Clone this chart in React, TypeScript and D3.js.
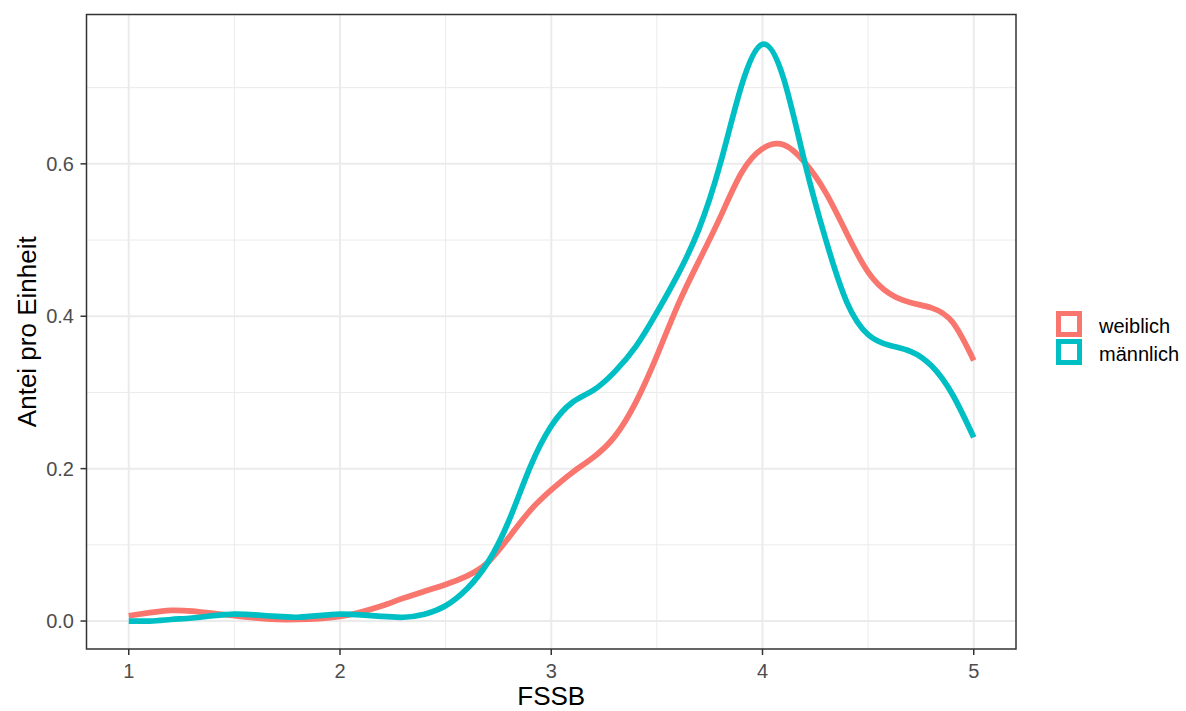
import React from "react";
import * as d3 from "d3";

const xGrid = [1.0,1.1,1.2,1.3,1.4,1.5,1.6,1.7,1.8,1.9,2.0,2.1,2.2,2.3,2.4,2.5,2.6,2.7,2.8,2.9,3.0,3.1,3.2,3.3,3.4,3.5,3.6,3.7,3.8,3.9,4.0,4.1,4.2,4.3,4.4,4.5,4.6,4.7,4.8,4.9,5.0];
const weiblich = [0.007,0.011,0.014,0.013,0.010,0.007,0.004,0.002,0.002,0.003,0.006,0.012,0.020,0.030,0.039,0.048,0.059,0.077,0.110,0.145,0.172,0.195,0.215,0.242,0.287,0.348,0.415,0.473,0.530,0.588,0.620,0.625,0.602,0.562,0.508,0.458,0.430,0.418,0.411,0.392,0.342];
const maennlich = [0.000,0.000,0.002,0.004,0.007,0.009,0.008,0.006,0.005,0.007,0.009,0.008,0.006,0.005,0.009,0.020,0.042,0.077,0.132,0.202,0.256,0.287,0.303,0.327,0.360,0.405,0.455,0.515,0.600,0.702,0.757,0.712,0.602,0.500,0.418,0.376,0.362,0.354,0.335,0.297,0.241];

const xTicks = [1, 2, 3, 4, 5];
const xMinor = [1.5, 2.5, 3.5, 4.5];
const yTicks = [0.0, 0.2, 0.4, 0.6];
const yMinor = [0.1, 0.3, 0.5, 0.7];
const seriesNames = ["weiblich", "männlich"];
const seriesColors = ["#F8766D", "#00BFC4"];

const panel = { left: 86.5, top: 14.5, right: 1016, bottom: 649 };

export default function App() {
  const x = d3.scaleLinear().domain([0.8, 5.2]).range([panel.left, panel.right]);
  const y = d3.scaleLinear().domain([-0.0367, 0.796]).range([panel.bottom, panel.top]);
  const line = d3
    .line<number>()
    .x((_, i) => x(xGrid[i]))
    .y((d) => y(d))
    .curve(d3.curveNatural);
  const series = [weiblich, maennlich];
  const font = "'Liberation Sans', Arial, sans-serif";
  const clipId = "panelClip";
  return (
    <svg width={1186} height={711} style={{ position: "absolute", left: 0, top: 0, background: "#fff" }} fontFamily={font}>
      <defs>
        <clipPath id={clipId}>
          <rect x={panel.left} y={panel.top} width={panel.right - panel.left} height={panel.bottom - panel.top} />
        </clipPath>
      </defs>
      <rect x={0} y={0} width={1186} height={711} fill="#fff" />
      {xMinor.map((v) => (
        <line key={"xm" + v} x1={x(v)} x2={x(v)} y1={panel.top} y2={panel.bottom} stroke="#EBEBEB" strokeWidth={1} />
      ))}
      {yMinor.map((v) => (
        <line key={"ym" + v} y1={y(v)} y2={y(v)} x1={panel.left} x2={panel.right} stroke="#EBEBEB" strokeWidth={1} />
      ))}
      {xTicks.map((v) => (
        <line key={"xg" + v} x1={x(v)} x2={x(v)} y1={panel.top} y2={panel.bottom} stroke="#EBEBEB" strokeWidth={2} />
      ))}
      {yTicks.map((v) => (
        <line key={"yg" + v} y1={y(v)} y2={y(v)} x1={panel.left} x2={panel.right} stroke="#EBEBEB" strokeWidth={2} />
      ))}
      <g clipPath={`url(#${clipId})`}>
        {series.map((s, i) => (
          <path key={i} d={line(s) || ""} fill="none" stroke={seriesColors[i]} strokeWidth={5.7} strokeLinecap="butt" strokeLinejoin="round" />
        ))}
      </g>
      <rect x={panel.left} y={panel.top} width={panel.right - panel.left} height={panel.bottom - panel.top} fill="none" stroke="#333333" strokeWidth={1.5} />
      {xTicks.map((v) => (
        <g key={"xt" + v}>
          <line x1={x(v)} x2={x(v)} y1={panel.bottom} y2={panel.bottom + 6} stroke="#333333" strokeWidth={1.5} />
          <text x={x(v)} y={678} textAnchor="middle" fontSize={20} fill="#4D4D4D">
            {d3.format("d")(v)}
          </text>
        </g>
      ))}
      {yTicks.map((v) => (
        <g key={"yt" + v}>
          <line x1={panel.left - 6} x2={panel.left} y1={y(v)} y2={y(v)} stroke="#333333" strokeWidth={1.5} />
          <text x={74} y={y(v)} dy="0.36em" textAnchor="end" fontSize={20} fill="#4D4D4D">
            {d3.format(".1f")(v)}
          </text>
        </g>
      ))}
      <text x={(panel.left + panel.right) / 2} y={705} textAnchor="middle" fontSize={26} fill="#000">
        FSSB
      </text>
      <text transform={`translate(36, ${(panel.top + panel.bottom) / 2}) rotate(-90)`} textAnchor="middle" fontSize={26} fill="#000">
        Antei pro Einheit
      </text>
      {seriesNames.map((n, i) => {
        const cy = 324 + i * 28;
        return (
          <g key={n}>
            <rect x={1058.5} y={cy - 10.5} width={21} height={21} fill="none" stroke={seriesColors[i]} strokeWidth={5} />
            <text x={1099} y={cy + 9} fontSize={20} fill="#000">
              {n}
            </text>
          </g>
        );
      })}
    </svg>
  );
}
